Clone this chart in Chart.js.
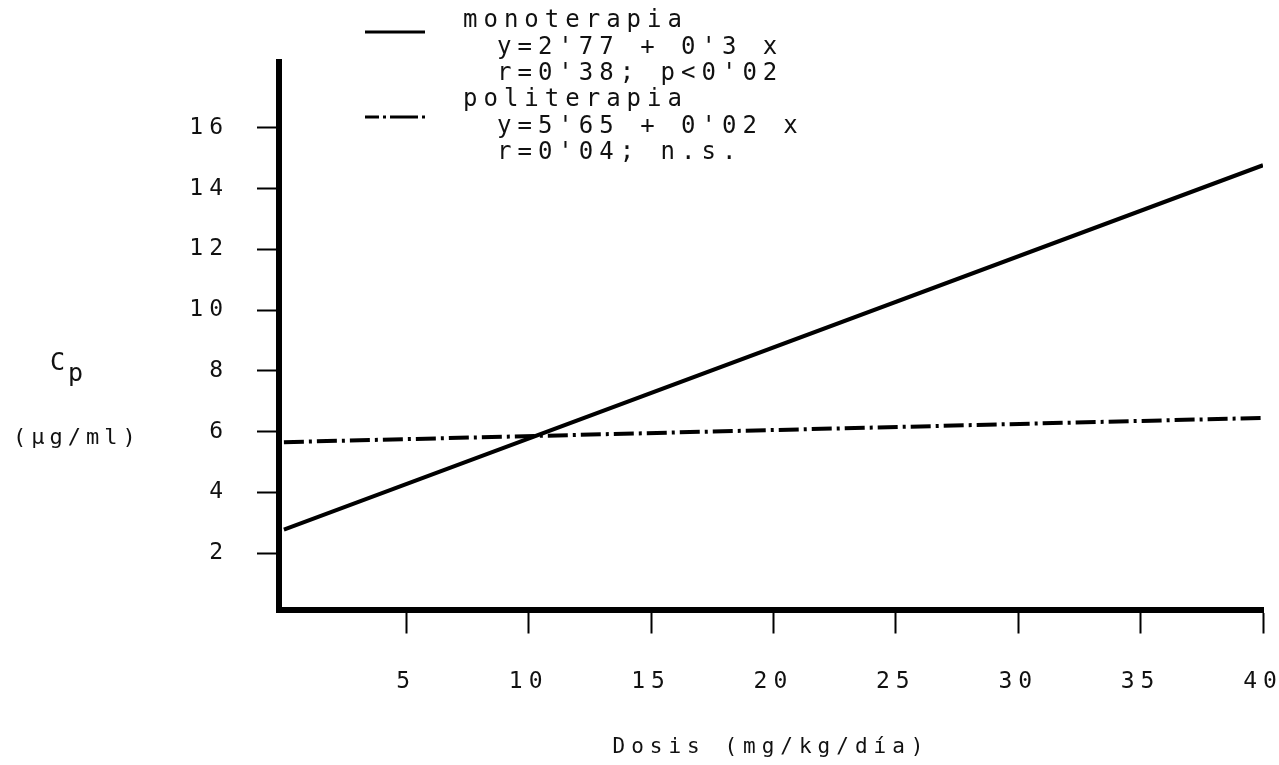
<!DOCTYPE html>
<html><head><meta charset="utf-8">
<script src="https://cdn.jsdelivr.net/npm/chart.js@4"></script>
<style>html,body{margin:0;padding:0;background:#fff;}</style>
</head><body>
<canvas id="c" width="1279" height="765"></canvas>
<script>
// ---- data ----
const doses = [0, 40];
const mono = [2.77, 14.77];
const poli = [5.65, 6.45];
const xTicks = [5, 10, 15, 20, 25, 30, 35, 40];
const yTicks = [2, 4, 6, 8, 10, 12, 14, 16];
const seriesNames = ['monoterapia', 'politerapia'];
const monoNotes = ["y=2'77 + 0'3 x", "r=0'38; p<0'02"];
const poliNotes = ["y=5'65 + 0'02 x", "r=0'04; n.s."];
const xTitle = 'Dosis (mg/kg/día)';
const yTitleMain = 'C';
const yTitleSub = 'p';
const yTitleUnit = '(µg/ml)';

const FONT = '"DejaVu Sans Mono", monospace';
const INK = '#111';

const textPlugin = {
  id: 'txt',
  beforeUpdate(chart) { chart.ctx.letterSpacing = '6px'; },
  beforeDraw(chart) {
    const ctx = chart.ctx;
    ctx.save();
    ctx.fillStyle = '#fff';
    ctx.fillRect(0, 0, chart.width, chart.height);
    ctx.restore();
    ctx.letterSpacing = '6px';
  },
  afterDraw(chart) {
    const ctx = chart.ctx;
    ctx.save();
    ctx.fillStyle = INK;
    ctx.textAlign = 'left';
    ctx.textBaseline = 'alphabetic';
    // legend text
    ctx.font = '24px ' + FONT;
    ctx.letterSpacing = '6px';
    ctx.fillText(seriesNames[0], 463, 27);
    ctx.fillText(monoNotes[0], 497, 54);
    ctx.fillText(monoNotes[1], 497, 80);
    ctx.fillText(seriesNames[1], 463, 106);
    ctx.fillText(poliNotes[0], 497, 133);
    ctx.fillText(poliNotes[1], 497, 159);
    // legend samples
    ctx.strokeStyle = '#000';
    ctx.lineWidth = 3;
    ctx.beginPath(); ctx.moveTo(365, 32); ctx.lineTo(425, 32); ctx.stroke();
    ctx.setLineDash([14, 4, 3, 4, 28, 4, 3, 100]);
    ctx.beginPath(); ctx.moveTo(365, 117); ctx.lineTo(425, 117); ctx.stroke();
    ctx.setLineDash([]);
    // y axis title
    ctx.font = '25px ' + FONT;
    ctx.letterSpacing = '0px';
    ctx.fillText(yTitleMain, 50, 370);
    ctx.fillText(yTitleSub, 68, 381);
    ctx.font = '22px ' + FONT;
    ctx.letterSpacing = '5px';
    ctx.fillText(yTitleUnit, 13, 444);
    ctx.restore();
  }
};

const tickGrid = (len) => ({
  display: true, drawOnChartArea: false, drawTicks: true,
  tickLength: len, tickWidth: 2, tickColor: '#000', color: '#000'
});

new Chart(document.getElementById('c'), {
  type: 'line',
  data: {
    datasets: [
      {
        label: seriesNames[0],
        data: doses.map((d, i) => ({ x: d, y: mono[i] })),
        borderColor: '#000', borderWidth: 4, pointRadius: 0, tension: 0, fill: false
      },
      {
        label: seriesNames[1],
        data: doses.map((d, i) => ({ x: d, y: poli[i] })),
        borderColor: '#000', borderWidth: 4, pointRadius: 0, tension: 0, fill: false,
        borderDash: [20, 5, 3, 5], borderCapStyle: 'butt'
      }
    ]
  },
  options: {
    responsive: false,
    animation: false,
    devicePixelRatio: 1,
    layout: { padding: { top: 62, right: 16, left: 0, bottom: 0 } },
    plugins: { legend: { display: false }, tooltip: { enabled: false }, title: { display: false } },
    scales: {
      x: {
        type: 'linear', min: -0.2, max: 40,
        afterBuildTicks: s => { s.ticks = xTicks.map(v => ({ value: v })); },
        afterFit: s => { s.height = 155.5; s.paddingLeft = 0; s.paddingRight = 0; },
        grid: tickGrid(24),
        border: { display: true, width: 6, color: '#000' },
        ticks: {
          font: { family: FONT, size: 23 }, color: INK, padding: 35,
          maxRotation: 0, autoSkip: false, callback: v => String(v)
        },
        title: {
          display: true, text: xTitle, color: INK,
          font: { family: FONT, size: 21 }, padding: { top: 0, bottom: 5 }
        }
      },
      y: {
        type: 'linear', min: 0.14, max: 18.17,
        afterBuildTicks: s => { s.ticks = yTicks.map(v => ({ value: v })); },
        afterFit: s => { s.width = 279; s.paddingTop = 0; s.paddingBottom = 0; },
        grid: tickGrid(22),
        border: { display: true, width: 6, color: '#000' },
        ticks: {
          font: { family: FONT, size: 23 }, color: INK, padding: 28,
          autoSkip: false, callback: v => String(v)
        }
      }
    }
  },
  plugins: [textPlugin]
});
</script>
</body></html>
